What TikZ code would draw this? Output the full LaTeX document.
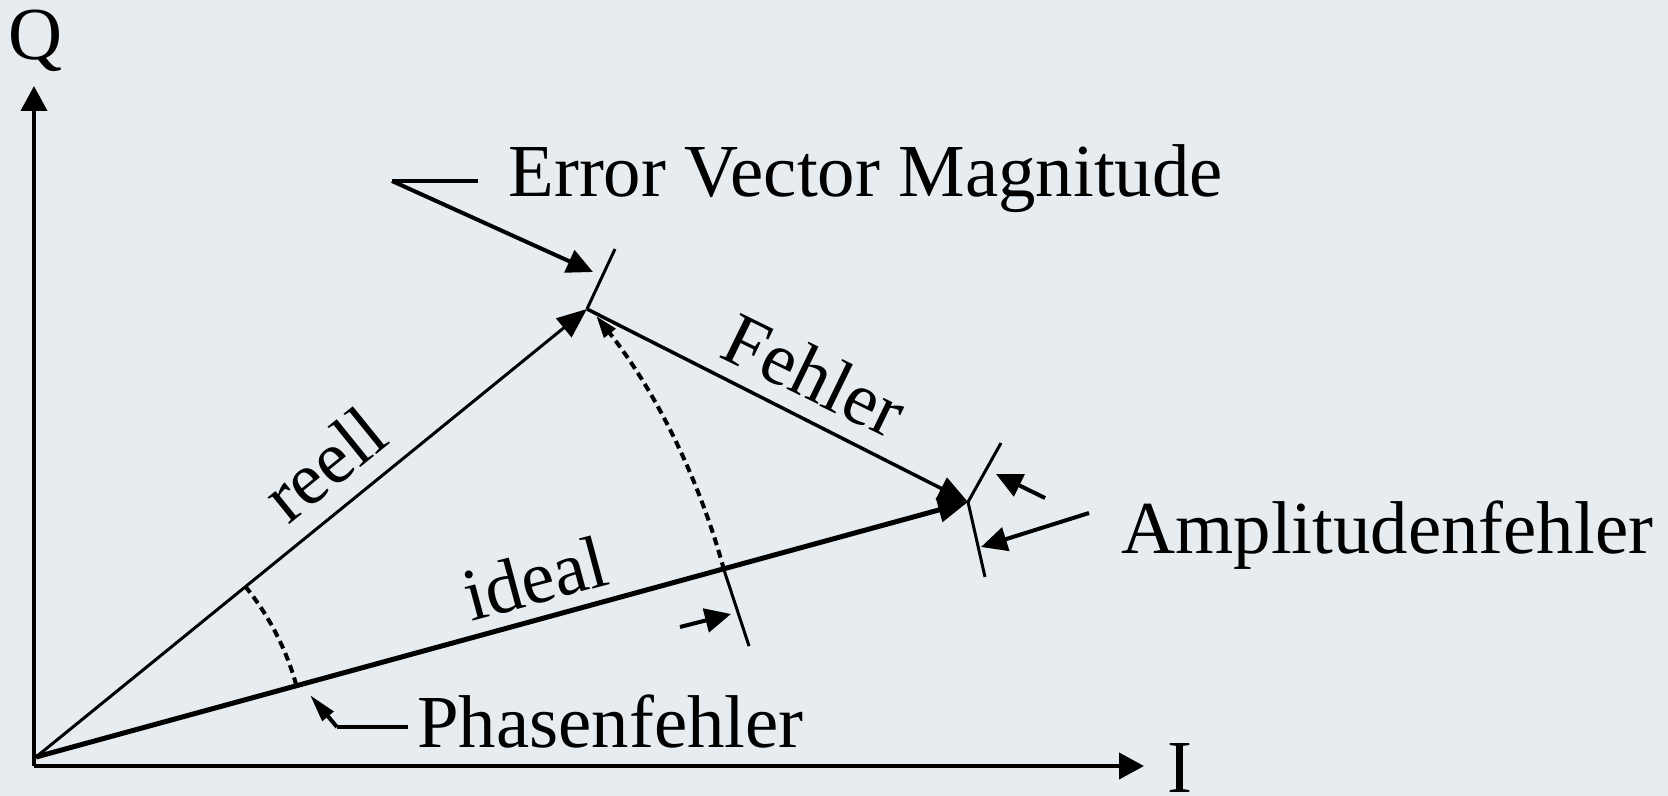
\documentclass[tikz,border=0pt]{standalone}
\usepackage{fontspec}
\setmainfont{Liberation Serif}
\usepackage{tikz}
\usetikzlibrary{arrows.meta,positioning,calc}
\definecolor{paper}{HTML}{E6ECEF}
\definecolor{ink}{HTML}{000000}

\begin{document}
\begin{tikzpicture}[
  x=0.5pt,y=-0.5pt,
  every node/.style={font=\fontsize{37.4}{40}\selectfont,inner sep=0pt,text=ink},
  axis/.style={line width=2pt,draw=ink,-{Triangle[length=12.5pt,width=13pt]}},
  vec/.style={draw=ink,-{Triangle[length=15pt,width=12pt]}},
  tick/.style={line width=1.5pt,draw=ink},
  lead/.style={line width=2pt,draw=ink,-{Triangle[length=13pt,width=12pt]}},
  arcdot/.style={line width=2pt,draw=ink,dash pattern=on 4pt off 2.5pt}
]
\useasboundingbox (0,0) rectangle (1668,796);
\fill[paper] (0,0) rectangle (1668,796);

% axes
\coordinate (C) at (34,766);
\coordinate (Qtip) at (34,86);
\coordinate (Itip) at (1144,766);
\draw[axis] (C) -- (Qtip);
\draw[axis] (C) -- (Itip);
\node[anchor=base] (Q) at (36,60) {Q};
\node[anchor=base] (I) at (1180,792) {I};

% vectors
\coordinate (O) at (36,757);
\coordinate (R) at (587,309);
\coordinate (A) at (968,502);
\coordinate (M) at ($(O)+(-15.2:713)$);
\draw[vec,line width=1.5pt] (O) -- (R);
\draw[vec,line width=2.5pt] (O) -- (A);
\draw[vec,line width=1.75pt] (R) -- (A);
\node[rotate=39] (reell) at (324,464) {reell};
\node[rotate=15] (ideal) at (535,578) {ideal};
\node[rotate=-26] (fehler) at (815,375) {Fehler};

% arcs
\draw[arcdot,-{Triangle[length=11pt,width=7pt]}] (M) arc[start angle=-15.2,end angle=-38.2,radius=713];
\draw[arcdot] ($(O)+(-39.2:270)$) arc[start angle=-39.2,end angle=-15.2,radius=270];

% ticks
\draw[tick] (R) -- (615,249);
\draw[tick] (A) -- (1001,443);
\draw[tick] (A) -- (985,577);
\draw[tick] (M) -- ($(M)+(25,76)$);

% labels and leaders
\node[anchor=base west] (evm) at (508,197) {Error Vector Magnitude};
\coordinate (evmknee) at (392,181);
\coordinate (evmtip) at (593,272);
\draw[lead,-] ($(evm.base west)+(-30,-16)$) -- (evmknee);
\draw[lead] (evmknee) -- (evmtip);

\node[anchor=base west] (amp) at (1121,553) {Amplitudenfehler};
\coordinate (amphi) at (1045,498);
\coordinate (amphitip) at (996,474);
\coordinate (amplo) at (1089,513);
\coordinate (amplotip) at (981,547);
\draw[lead] (amphi) -- (amphitip);
\draw[lead] (amplo) -- (amplotip);

\coordinate (magtail) at (680,627);
\coordinate (magtip) at (731,614);
\draw[lead] (magtail) -- (magtip);

\node[anchor=base west] (phase) at (417,747) {Phasenfehler};
\coordinate (phknee) at (337,727);
\coordinate (phtip) at (310,695);
\draw[lead,-] ($(phase.base west)+(-9,-20)$) -- (phknee);
\draw[lead,-{Triangle[length=14pt,width=7pt]}] (phknee) -- (phtip);
\end{tikzpicture}
\end{document}
